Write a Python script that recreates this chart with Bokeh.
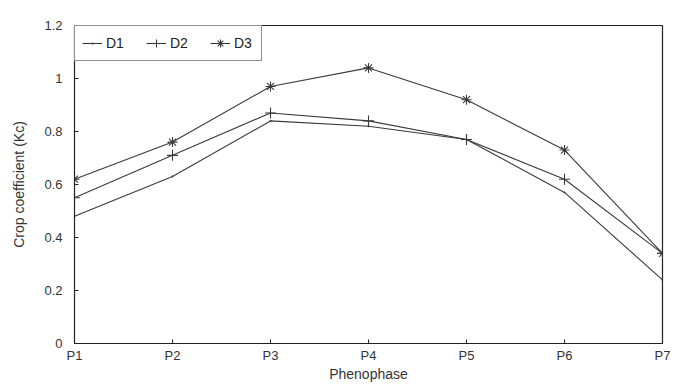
from bokeh.plotting import figure
from bokeh.models import FixedTicker, Legend, LegendItem
from bokeh.embed import file_html
from bokeh.resources import INLINE

phases = ["P1", "P2", "P3", "P4", "P5", "P6", "P7"]
xpos = [1, 2, 3, 4, 5, 6, 7]
d1 = [0.48, 0.63, 0.84, 0.82, 0.77, 0.57, 0.24]
d2 = [0.55, 0.71, 0.87, 0.84, 0.77, 0.62, 0.34]
d3 = [0.62, 0.76, 0.97, 1.04, 0.92, 0.73, 0.34]
yticks = [0, 0.2, 0.4, 0.6, 0.8, 1.0, 1.2]
ytick_labels = ["0", "0.2", "0.4", "0.6", "0.8", "1", "1.2"]

FONT = "Liberation Sans"
C = "#3a3a3a"

p = figure(width=681, height=389, output_backend="svg", toolbar_location=None,
           x_range=(1, 7), y_range=(0, 1.2),
           min_border_left=74, min_border_right=19, min_border_top=25, min_border_bottom=46)
p.grid.visible = False
p.outline_line_color = "#222222"
p.outline_line_width = 1.2

r1 = p.line(xpos, d1, line_color=C, line_width=1.1)
m1 = p.scatter(xpos, d1, marker="dot", size=8, line_color=C, fill_color=C)
r2 = p.line(xpos, d2, line_color=C, line_width=1.1)
m2 = p.scatter(xpos, d2, marker="cross", size=11, line_color=C, line_width=1.1)
r3 = p.line(xpos, d3, line_color=C, line_width=1.1)
m3 = p.scatter(xpos, d3, marker="asterisk", size=10, line_color=C, line_width=1.1)

legend = Legend(items=[LegendItem(label="D1", renderers=[r1, m1]),
                       LegendItem(label="D2", renderers=[r2, m2]),
                       LegendItem(label="D3", renderers=[r3, m3])],
                location="top_left", orientation="horizontal",
                border_line_color="#222222", border_line_width=1,
                label_text_font=FONT, label_text_font_size="14px", label_text_color="#222222",
                glyph_width=20, label_standoff=4, spacing=20, padding=7, margin=0,
                background_fill_alpha=1)
p.add_layout(legend)

p.xaxis.ticker = FixedTicker(ticks=xpos)
p.xaxis.major_label_overrides = {x: l for x, l in zip(xpos, phases)}
p.yaxis.ticker = FixedTicker(ticks=yticks)
p.yaxis.major_label_overrides = {t: l for t, l in zip(yticks, ytick_labels)}

for ax in (p.xaxis[0], p.yaxis[0]):
    ax.axis_line_color = "#222222"
    ax.major_tick_line_color = "#222222"
    ax.major_tick_in = 4
    ax.major_tick_out = 0
    ax.minor_tick_line_color = None
    ax.major_label_text_font = FONT
    ax.major_label_text_font_size = "13px"
    ax.major_label_text_color = "#333333"
    ax.axis_label_text_font = FONT
    ax.axis_label_text_font_size = "14px"
    ax.axis_label_text_font_style = "normal"
    ax.axis_label_text_color = "#333333"

p.xaxis.axis_label = "Phenophase"
p.xaxis.axis_label_standoff = 0
p.xaxis.major_label_standoff = 4
p.yaxis.axis_label = "Crop coefficient (Kc)"
p.yaxis.axis_label_standoff = 14
p.yaxis.major_label_standoff = 12

open("out.html", "w").write(file_html(p, INLINE))
